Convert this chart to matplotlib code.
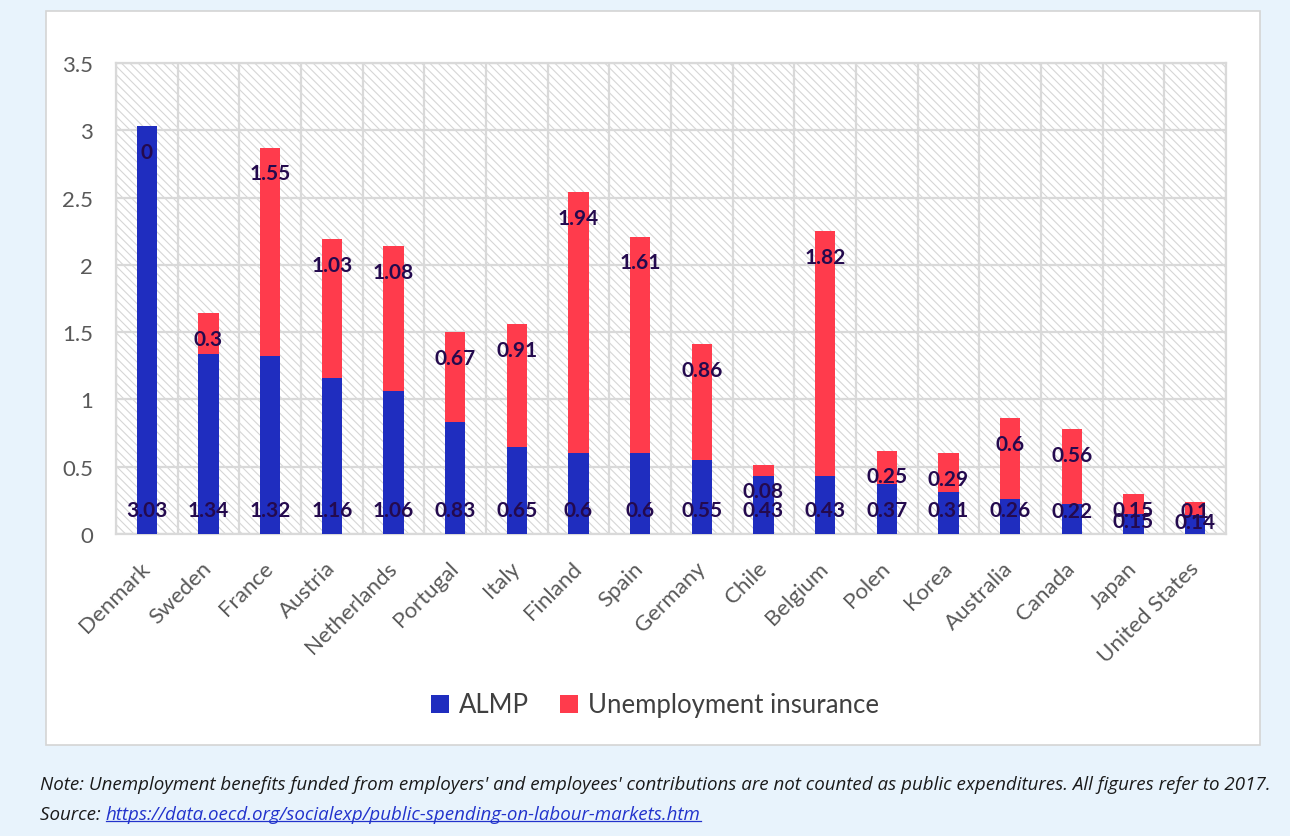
import matplotlib
matplotlib.use("Agg")
import matplotlib.pyplot as plt
import matplotlib.transforms as mtransforms
from matplotlib.patches import Rectangle
from matplotlib.lines import Line2D
import numpy as np

countries = ["Denmark", "Sweden", "France", "Austria", "Netherlands", "Portugal",
             "Italy", "Finland", "Spain", "Germany", "Chile", "Belgium", "Polen",
             "Korea", "Australia", "Canada", "Japan", "United States"]
almp = [3.03, 1.34, 1.32, 1.16, 1.06, 0.83, 0.65, 0.6, 0.6, 0.55, 0.43, 0.43,
        0.37, 0.31, 0.26, 0.22, 0.15, 0.14]
unemp_ins = [0, 0.3, 1.55, 1.03, 1.08, 0.67, 0.91, 1.94, 1.61, 0.86, 0.08, 1.82,
             0.25, 0.29, 0.6, 0.56, 0.15, 0.1]
yticks = [0, 0.5, 1, 1.5, 2, 2.5, 3, 3.5]

note_text = ("Note: Unemployment benefits funded from employers' and employees' "
             "contributions are not counted as public expenditures. All figures refer to 2017.")
source_label = "Source: "
source_url = "https://data.oecd.org/socialexp/public-spending-on-labour-markets.htm"

BLUE = "#1f2dbf"
RED = "#ff3b4c"
GRID = "#d9d9d9"
LABEL = "#240a4e"
TICK = "#595959"

plt.rcParams["font.family"] = ["Lato", "DejaVu Sans"]
plt.rcParams["hatch.color"] = "#d6d6d6"
plt.rcParams["hatch.linewidth"] = 0.8

fig = plt.figure(figsize=(12.9, 8.37), dpi=100)
fig.patch.set_facecolor("#e8f3fc")

# white panel
panel = Rectangle((46 / 1290, 1 - 746 / 837), (1260 - 46) / 1290, (746 - 12) / 837,
                  transform=fig.transFigure, facecolor="white", edgecolor="#d4d4d4",
                  linewidth=1.2, zorder=-10)
fig.patches.append(panel)

ax = fig.add_axes([116 / 1290, 302 / 837, (1226 - 116) / 1290, (535 - 64) / 837])
ax.set_facecolor("white")
ax.set_zorder(1)

x = np.arange(len(countries))
almp_a = np.array(almp)
ui_a = np.array(unemp_ins)

# hatched plot area
hatch_bg = Rectangle((0, 0), 1, 1, transform=ax.transAxes, facecolor="white",
                     edgecolor="#d6d6d6", hatch="\\\\\\\\", linewidth=0, zorder=0)
ax.add_patch(hatch_bg)

w = 0.33
ax.bar(x, almp_a, width=w, color=BLUE, zorder=3, label="ALMP")
ax.bar(x, ui_a, width=w, bottom=almp_a, color=RED, zorder=3, label="Unemployment insurance")

# data labels
for i in range(len(countries)):
    ya = min(0.18, almp_a[i] - 0.05)
    yu = max(almp_a[i] + ui_a[i] - 0.19, ya + 0.08)
    ax.text(x[i], ya, f"{almp[i]:g}", ha="center", va="center", fontsize=15,
            fontweight="bold", color=LABEL, zorder=5)
    ax.text(x[i], yu, f"{unemp_ins[i]:g}", ha="center", va="center", fontsize=15,
            fontweight="bold", color=LABEL, zorder=5)

ax.set_xlim(-0.5, len(countries) - 0.5)
ax.set_ylim(0, 3.5)
ax.set_yticks(yticks)
ax.set_yticklabels([f"{v:g}" for v in yticks])
ax.set_xticks(x)
ax.set_xticklabels(countries, rotation=45, ha="right", rotation_mode="anchor")
ax.set_xticks(np.arange(len(countries) + 1) - 0.5, minor=True)
ax.tick_params(axis="both", which="both", length=0, labelsize=16, labelcolor=TICK)
ax.tick_params(axis="y", pad=16.5)
ax.tick_params(axis="x", pad=17)
ax.grid(axis="y", which="major", color=GRID, linewidth=1.6, zorder=1)
ax.grid(axis="x", which="minor", color=GRID, linewidth=1.6, zorder=1)
ax.set_axisbelow(True)
for s in ax.spines.values():
    s.set_color(GRID)
    s.set_linewidth(1.6)

shift = mtransforms.ScaledTranslation(-7 / 100, 0, fig.dpi_scale_trans)
for lbl in ax.get_xticklabels():
    lbl.set_transform(lbl.get_transform() + shift)

fig.legend(loc="center", bbox_to_anchor=(655 / 1290, 1 - 706 / 837), ncol=2,
           frameon=False, fontsize=18.5, handlelength=0.7, handleheight=0.7,
           handletextpad=0.4, columnspacing=1.2, labelcolor="#404040")

# notes
fs = 13.5
fig.text(40 / 1290, 1 - 785 / 837, note_text, fontsize=fs, style="italic",
         family=["Open Sans", "DejaVu Sans"], color="#1a1a1a", va="center", ha="left")
t1 = fig.text(40 / 1290, 1 - 815 / 837, source_label, fontsize=fs, style="italic",
              family=["Open Sans", "DejaVu Sans"], color="#1a1a1a", va="center", ha="left")
fig.canvas.draw()
r = fig.canvas.get_renderer()
bb = t1.get_window_extent(r)
x0 = bb.x1 / fig.bbox.width
t2 = fig.text(x0, 1 - 815 / 837, source_url, fontsize=fs, style="italic",
              family=["Open Sans", "DejaVu Sans"], color="#2233cc", va="center", ha="left")
bb2 = t2.get_window_extent(r)
yline = (bb2.y0 + 2) / fig.bbox.height
fig.lines.append(Line2D([bb2.x0 / fig.bbox.width, bb2.x1 / fig.bbox.width], [yline, yline],
                        transform=fig.transFigure, color="#2233cc", linewidth=0.9))

fig.savefig("out.png", dpi=100, facecolor=fig.get_facecolor())
